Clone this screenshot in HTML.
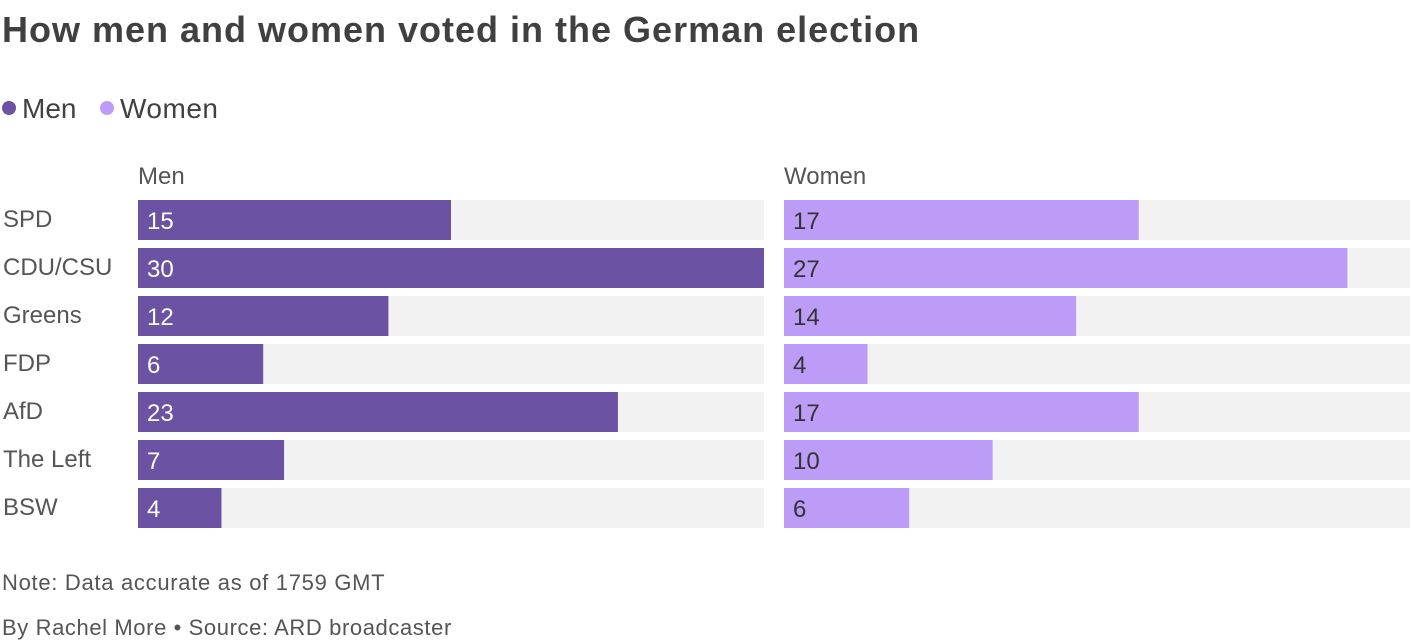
<!DOCTYPE html>
<html><head><meta charset="utf-8"><style>
body{margin:0;width:1420px;height:642px;background:#fff;font-family:"Liberation Sans",sans-serif;overflow:hidden;position:relative}
.t{position:absolute;white-space:nowrap}
</style></head><body>
<div class="t" style="left:2px;top:9px;font-size:36px;font-weight:bold;color:#404040;letter-spacing:1px">How men and women voted in the German election</div>
<div class="t" style="left:2px;top:93px;font-size:28px;color:#404040"><span style="display:inline-block;width:14px;height:14px;border-radius:50%;background:#6b52a3;margin-right:6px;vertical-align:3px"></span>Men</div>
<div class="t" style="left:100px;top:93px;font-size:28px;color:#404040;letter-spacing:0.5px"><span style="display:inline-block;width:14px;height:14px;border-radius:50%;background:#bc9cf7;margin-right:6px;vertical-align:3px"></span>Women</div>
<svg id="chart" width="1420" height="560" style="position:absolute;left:0;top:0" font-family="Liberation Sans, sans-serif"></svg>
<div class="t" style="left:2px;top:570px;font-size:22px;color:#555;letter-spacing:0.7px">Note: Data accurate as of 1759 GMT</div>
<div class="t" style="left:2px;top:615px;font-size:22px;color:#555;letter-spacing:0.6px">By Rachel More • Source: ARD broadcaster</div>
<script>
const parties=["SPD","CDU/CSU","Greens","FDP","AfD","The Left","BSW"];
const men=[15,30,12,6,23,7,4];
const women=[17,27,14,4,17,10,6];
const maxV=30;
const svg=document.getElementById('chart');
const NS="http://www.w3.org/2000/svg";
const panelW=626, rowTop=200, rowStep=48, barH=40;
function x(v){return v/maxV*panelW;}
function y(i){return rowTop+i*rowStep;}
function mk(tag,attrs,text){const e=document.createElementNS(NS,tag);for(const k in attrs)e.setAttribute(k,attrs[k]);if(text!==undefined)e.textContent=text;svg.appendChild(e);return e;}
const panels=[{name:"Men",x0:138,vals:men,color:"#6b52a3",tc:"#fff"},{name:"Women",x0:784,vals:women,color:"#bc9cf7",tc:"#333"}];
panels.forEach(p=>{
  const h=mk('text',{x:p.x0,y:184,'font-size':24,fill:'#555'},p.name);
  
  
  p.vals.forEach((v,i)=>{
    const bg=mk('rect',{x:p.x0,y:y(i),width:panelW,height:barH,fill:'#f2f2f2'});
    
    
    const r=mk('rect',{x:p.x0,y:y(i),width:x(v),height:barH,fill:p.color});
    
    
    const t=mk('text',{x:p.x0+9,y:y(i)+29,'font-size':24,fill:p.tc},String(v));
    
    
  });
});
parties.forEach((n,i)=>{
  const t=mk('text',{x:3,y:y(i)+27,'font-size':24,fill:'#555'},n);
  
  
});
</script>
</body></html>
